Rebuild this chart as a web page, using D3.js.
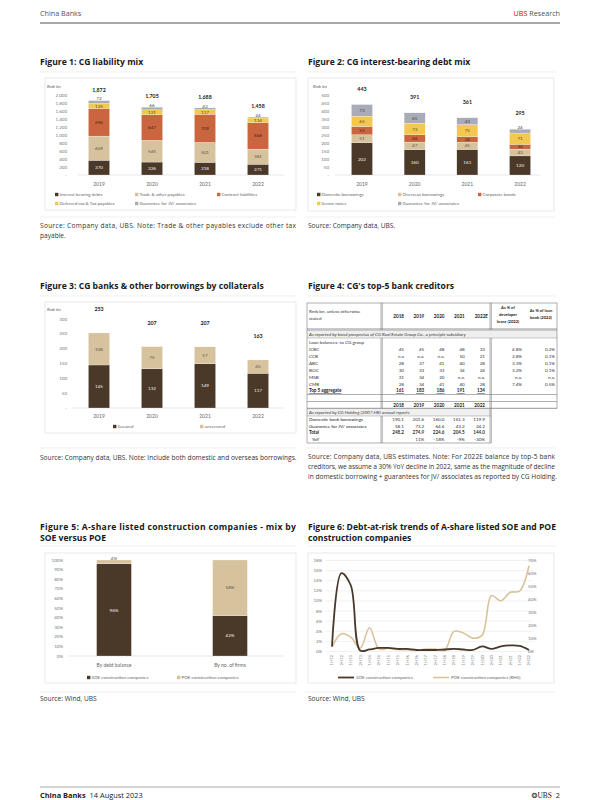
<!DOCTYPE html>
<html><head><meta charset="utf-8">
<script src="https://cdn.jsdelivr.net/npm/d3@7"></script>
<style>
body{margin:0;background:#fff}
svg{display:block}
</style></head><body>
<svg id="page" width="600" height="800"></svg>
<script>
// ---------------- DATA ----------------
const years = ["2019","2020","2021","2022"];
// Figure 1: CG liability mix (Rmb bn)
const f1Names = ["Interest bearing debts","Trade & other payables","Contract liabilities","Deferred tax & Tax payables","Guarantee for JV/ associates"];
const f1Interest = [370,326,318,271];
const f1Trade = [609,545,501,381];
const f1Contract = [696,647,709,668];
const f1Deferred = [125,121,117,114];
const f1Guarantee = [72,66,43,24];
const f1Totals = [1872,1705,1688,1458];
const f1Ticks = [0,200,400,600,800,1000,1200,1400,1600,1800,2000];
// Figure 2: CG interest-bearing debt mix (Rmb bn)
const f2Names = ["Domestic borrowings","Overseas borrowings","Corporate bonds","Senior notes","Guarantee for JV/ associates"];
const f2Domestic = [202,160,161,120];
const f2Overseas = [51,47,45,43];
const f2Corporate = [52,46,36,30];
const f2Senior = [65,73,75,71];
const f2Guarantee = [73,65,43,24];
const f2Totals = [443,391,361,295];
const f2Ticks = [0,50,100,150,200,250,300,350,400,450,500];
// Figure 3: borrowings by collaterals (Rmb bn)
const f3Names = ["Secured","unsecured"];
const f3Secured = [145,132,149,117];
const f3Unsecured = [108,75,57,45];
const f3Totals = [253,207,207,163];
const f3Ticks = [0,50,100,150,200,250,300];
// Figure 4: table
const t4Years = ["2018","2019","2020","2021","2022E"];
const t4YearsB = ["2018","2019","2020","2021","2022"];
const t4Banks = ["ICBC","CCB","ABC","BOC","MSB","CMB"];
const t4ICBC = ["45","45","48","48","33"];
const t4CCB = ["n.a","n.a.","n.a.","50","21"];
const t4ABC = ["28","37","41","40","28"];
const t4BOC = ["30","33","33","34","24"];
const t4MSB = ["31","34","20","n.a.","n.a."];
const t4CMB = ["28","34","41","40","28"];
const t4DevShare = ["4.8%","2.8%","3.3%","3.2%","n.a.","7.4%"];
const t4BookShare = ["0.2%","0.1%","0.1%","0.1%","n.a.","0.5%"];
const t4Top5 = ["161","183","186","191","134"];
const t4HoldLabels = ["Domestic bank borrowings","Guarantee for JV/ associates","Total","YoY"];
const t4HoldDomestic = ["190.1","201.6","160.0","161.3","119.9"];
const t4HoldGuarantee = ["58.1","73.2","64.6","43.2","24.2"];
const t4HoldTotal = ["248.2","274.9","224.6","204.5","144.0"];
const t4HoldYoY = ["","11%","-18%","-9%","-30%"];
// Figure 5: SOE vs POE mix (%)
const f5Cats = ["By debt balance","By no. of firms"];
const f5Names = ["SOE construction companies","POE construction companies"];
const f5SOE = [96,42];
const f5POE = [4,58];
const f5Ticks = [0,10,20,30,40,50,60,70,80,90,100];
// Figure 6: debt-at-risk trends (%)
const f6Periods = ["1H12","2H12","1H13","2H13","1H14","2H14","1H15","2H15","1H16","2H16","1H17","2H17","1H18","2H18","1H19","2H19","1H20","2H20","1H21","2H21","1H22","2H22"];
const f6SOE = [1.0,15.5,13.1,0.2,0.4,0.7,0.7,0.5,0.5,0.3,0.3,0.3,0.4,0.5,0.4,0.3,1.0,0.5,1.0,1.2,1.1,0.3];
const f6POE = [3.4,13.7,11.0,2.6,18.3,2.0,2.5,1.5,1.3,0.8,1.8,1.8,0.8,15.5,14.2,10.3,12.4,43.0,39.0,45.5,46.5,66.0];
const f6LeftTicks = [0,2,4,6,8,10,12,14,16,18];
const f6RightTicks = [0,10,20,30,40,50,60,70];

// ---------------- STYLE ----------------
const FONT = "Lato, 'Open Sans', sans-serif";
const TFONT = "'Open Sans', Lato, sans-serif";
const C_DARK = "#4a3829", C_TAN = "#d6c39e", C_ORANGE = "#c9663f", C_YELLOW = "#f3c84f", C_GREY = "#a9acb6";

const svg = d3.select("#page");
svg.append("rect").attr("width",600).attr("height",800).attr("fill","#fff");

function txt(g, x, y, s, o={}) {
  const t = g.append("text").attr("x",x).attr("y",y).text(s)
    .attr("font-size", o.size||5).attr("fill", o.fill||"#555")
    .attr("text-anchor", o.anchor||"start")
    .attr("font-weight", o.weight||"normal")
    .attr("font-style", o.style||"normal")
    .attr("font-family", o.family||FONT);
  if (o.len) t.attr("textLength", o.len).attr("lengthAdjust","spacing");
  if (o.deco) t.attr("text-decoration", o.deco);
  return t;
}
function hline(g,x1,x2,y,c,w){ g.append("line").attr("x1",x1).attr("x2",x2).attr("y1",y).attr("y2",y).attr("stroke",c).attr("stroke-width",w); }
function vline(g,x,y1,y2,c,w){ g.append("line").attr("x1",x).attr("x2",x).attr("y1",y1).attr("y2",y2).attr("stroke",c).attr("stroke-width",w); }
function frame(g,x,y,w,h){ g.append("rect").attr("x",x).attr("y",y).attr("width",w).attr("height",h).attr("fill","none").attr("stroke","#e4e4e4").attr("stroke-width",0.8); }
function title(g,x,y,lines,len){
  lines.forEach((l,i)=>txt(g,x,y+i*11,l,{size:8.6,weight:"bold",fill:"#1a1a1a",family:TFONT,len:(i<lines.length-1?len:null)}));
}
function source(g,x,y,lines,len){
  lines.forEach((l,i)=>txt(g,x,y+i*10,l.t,{size:6.6,fill:"#333",family:TFONT,len:(l.just?len:null)}));
}
function legend(g, items){
  items.forEach(it=>{
    g.append("rect").attr("x",it.x).attr("y",it.y-3.2).attr("width",3.4).attr("height",3.4).attr("fill",it.color);
    txt(g,it.x+4.5,it.y,it.name,{size:4.5,fill:"#666"});
  });
}

// ---------------- HEADER / FOOTER ----------------
txt(svg,40,16,"China Banks",{size:7.2,fill:"#555",family:TFONT});
const hr = svg.append("text").attr("x",560).attr("y",16).attr("text-anchor","end").attr("font-size",7.2).attr("font-family",TFONT);
hr.append("tspan").attr("fill","#e60000").text("UBS ");
hr.append("tspan").attr("fill","#555").text("Research");
hline(svg,40,560,23,"#8c8c8c",1.6);

hline(svg,40,560,787,"#a0a0a0",0.9);
const ft = svg.append("text").attr("x",40).attr("y",798).attr("font-size",7.4).attr("font-family",TFONT).attr("fill","#222");
ft.append("tspan").attr("font-weight","bold").text("China Banks");
ft.append("tspan").attr("dx",4).text("14 August 2023");
const fr = svg.append("text").attr("x",560).attr("y",798).attr("text-anchor","end").attr("font-size",7.4).attr("font-family",TFONT).attr("fill","#222");
fr.append("tspan").attr("font-family","DejaVu Sans").attr("font-size",7).text("\u2742");
fr.append("tspan").attr("font-family","'Liberation Serif', serif").text("UBS");
fr.append("tspan").attr("dx",4).text("2");

// ---------------- STACKED BAR HELPER ----------------
function stackChart(g, cfg){
  const {cats, series, x, y, ticks, tickX, fmt, axisX1, axisX2, catY, totalDy, totals, tickSize} = cfg;
  ticks.forEach(v => txt(g, tickX, y(v)+1.6, fmt(v), {size:tickSize||4.5, anchor:"end", fill:"#777"}));
  hline(g, axisX1, axisX2, y(0), "#d6d6d6", 0.6);
  cats.forEach(c => txt(g, x(c)+x.bandwidth()/2, catY, c, {size:5, anchor:"middle", fill:"#666"}));
  const rows = cats.map((c,i)=>{ const r={cat:c}; series.forEach(s=>r[s.name]=s.values[i]); return r; });
  const layers = d3.stack().keys(series.map(s=>s.name))(rows);
  layers.forEach((layer, li) => {
    const s = series[li];
    g.selectAll(null).data(layer).join("rect")
      .attr("x", d=>x(d.data.cat)).attr("width", x.bandwidth())
      .attr("y", d=>y(d[1])).attr("height", d=>y(d[0])-y(d[1]))
      .attr("fill", s.color).attr("stroke","#ffffff").attr("stroke-width",0.25);
  });
  layers.forEach((layer, li) => {
    const s = series[li];
    const isTop = li === layers.length-1;
    g.selectAll(null).data(layer).join("text")
      .attr("x", d=>x(d.data.cat)+x.bandwidth()/2)
      .attr("y", d=>{
        const h = y(d[0])-y(d[1]);
        return (isTop && h < 5) ? y(d[1])-0.3 : (y(d[0])+y(d[1]))/2+1.6;
      })
      .attr("text-anchor","middle").attr("font-size",4.6).attr("font-family",FONT)
      .attr("fill", s.labelColor)
      .text(d=>s.fmt ? s.fmt(d[1]-d[0]) : (d[1]-d[0]));
  });
  if (totals) {
    const top = layers[layers.length-1];
    g.selectAll(null).data(top).join("text")
      .attr("x", d=>x(d.data.cat)+x.bandwidth()/2)
      .attr("y", (d,i)=>y(d[1])-totalDy)
      .attr("text-anchor","middle").attr("font-size",5.3).attr("font-weight","bold")
      .attr("font-family",FONT).attr("fill","#222")
      .text((d,i)=>d3.format(",")(totals[i]));
  }
}
const numFmt = v => v===0 ? "-" : d3.format(",")(v);

// ---------------- FIGURE 1 ----------------
const g1 = svg.append("g");
title(g1,40,65,["Figure 1: CG liability mix"]);
hline(g1,40,296,72,"#e6e6e6",0.6);
frame(g1,45,78,251,132);
txt(g1,47,88,"Rmb bn",{size:4.3,style:"italic",fill:"#555"});
const x1 = d3.scaleBand().domain(years).range([72.5,284.5]).paddingInner(0.6).paddingOuter(0.3);
const y1 = d3.scaleLinear().domain([0,2000]).range([175,95.5]);
stackChart(g1,{cats:years,x:x1,y:y1,ticks:f1Ticks,tickX:67,fmt:numFmt,axisX1:78,axisX2:284,catY:185.5,totalDy:9,totals:f1Totals,
  series:[
    {name:f1Names[0],values:f1Interest,color:C_DARK,labelColor:"#f4efe9"},
    {name:f1Names[1],values:f1Trade,color:C_TAN,labelColor:"#5d5346"},
    {name:f1Names[2],values:f1Contract,color:C_ORANGE,labelColor:"#4e2414"},
    {name:f1Names[3],values:f1Deferred,color:C_YELLOW,labelColor:"#5b4a20"},
    {name:f1Names[4],values:f1Guarantee,color:C_GREY,labelColor:"#444"}]});
legend(g1,[
  {name:f1Names[0],color:C_DARK,x:55,y:196},
  {name:f1Names[1],color:C_TAN,x:135,y:196},
  {name:f1Names[2],color:C_ORANGE,x:217,y:196},
  {name:f1Names[3],color:C_YELLOW,x:55,y:205},
  {name:f1Names[4],color:C_GREY,x:135,y:205}]);
hline(g1,40,296,217,"#e6e6e6",0.6);
source(g1,40,228,[{t:"Source: Company data, UBS. Note: Trade & other payables exclude other tax",just:true},{t:"payable."}],256);

// ---------------- FIGURE 2 ----------------
const g2 = svg.append("g");
title(g2,308,65,["Figure 2: CG interest-bearing debt mix"]);
hline(g2,308,556,72,"#e6e6e6",0.6);
frame(g2,308,78,246,133);
txt(g2,313,88,"Rmb bn",{size:4.3,style:"italic",fill:"#555"});
const x2 = d3.scaleBand().domain(years).range([335.6,546.4]).paddingInner(0.6).paddingOuter(0.3);
const y2 = d3.scaleLinear().domain([0,500]).range([175,95.5]);
stackChart(g2,{cats:years,x:x2,y:y2,ticks:f2Ticks,tickX:329,fmt:numFmt,axisX1:335,axisX2:540,catY:185.5,totalDy:14,totals:f2Totals,
  series:[
    {name:f2Names[0],values:f2Domestic,color:C_DARK,labelColor:"#f4efe9"},
    {name:f2Names[1],values:f2Overseas,color:C_TAN,labelColor:"#5d5346"},
    {name:f2Names[2],values:f2Corporate,color:C_ORANGE,labelColor:"#4e2414"},
    {name:f2Names[3],values:f2Senior,color:C_YELLOW,labelColor:"#5b4a20"},
    {name:f2Names[4],values:f2Guarantee,color:C_GREY,labelColor:"#444"}]});
legend(g2,[
  {name:f2Names[0],color:C_DARK,x:317,y:196},
  {name:f2Names[1],color:C_TAN,x:398,y:196},
  {name:f2Names[2],color:C_ORANGE,x:478,y:196},
  {name:f2Names[3],color:C_YELLOW,x:317,y:205},
  {name:f2Names[4],color:C_GREY,x:398,y:205}]);
hline(g2,305,555,217,"#e6e6e6",0.6);
source(g2,308,228,[{t:"Source: Company data, UBS."}],0);

// ---------------- FIGURE 3 ----------------
const g3 = svg.append("g");
title(g3,40,289,["Figure 3: CG banks & other borrowings by collaterals"]);
hline(g3,40,296,296,"#e6e6e6",0.6);
frame(g3,45,302,251,131);
txt(g3,47,311,"Rmb bn",{size:4.3,style:"italic",fill:"#555"});
const x3 = d3.scaleBand().domain(years).range([72.5,284.5]).paddingInner(0.6).paddingOuter(0.3);
const y3 = d3.scaleLinear().domain([0,300]).range([408,319]);
stackChart(g3,{cats:years,x:x3,y:y3,ticks:f3Ticks,tickX:67,fmt:numFmt,axisX1:72,axisX2:284,catY:417.5,totalDy:22,totals:f3Totals,
  series:[
    {name:f3Names[0],values:f3Secured,color:C_DARK,labelColor:"#f4efe9"},
    {name:f3Names[1],values:f3Unsecured,color:C_TAN,labelColor:"#5d5346"}]});
legend(g3,[
  {name:f3Names[0],color:C_DARK,x:113,y:428},
  {name:f3Names[1],color:C_TAN,x:200,y:428}]);
hline(g3,40,296,448,"#e6e6e6",0.6);
source(g3,40,460,[{t:"Source: Company data, UBS. Note: Include both domestic and overseas borrowings."}],0);

// ---------------- FIGURE 4 (TABLE) ----------------
const g4 = svg.append("g");
title(g4,308,289,["Figure 4: CG's top-5 bank creditors"]);
hline(g4,308,556,296,"#e6e6e6",0.6);
const TS = 4.6, HS = 4.1, LC = "#7a7a7a";
const colX = d3.scalePoint().domain(t4Years.map((d,i)=>i)).range([404,485]);
const colX2 = d3.scalePoint().domain(t4YearsB.map((d,i)=>i)).range([404,485]);
// bands
g4.append("rect").attr("x",307).attr("y",330).attr("width",250).attr("height",8).attr("fill","#efefef");
g4.append("rect").attr("x",307).attr("y",408.5).attr("width",184).attr("height",7.5).attr("fill","#efefef");
// header
txt(g4,309,313,"Rmb bn, unless otherwise",{size:TS,fill:"#333"});
txt(g4,309,320,"stated",{size:TS,fill:"#333"});
t4Years.forEach((c,i)=>txt(g4,colX(i)+(i===4?3:0),318,c,{size:TS,weight:"bold",anchor:"end",fill:"#222"}));
txt(g4,508,309,"As % of",{size:HS,weight:"bold",anchor:"middle",fill:"#222"});
txt(g4,508,316,"developer",{size:HS,weight:"bold",anchor:"middle",fill:"#222"});
txt(g4,508,323,"loans (2022)",{size:HS,weight:"bold",anchor:"middle",fill:"#222"});
txt(g4,541,312,"As % of loan",{size:HS,weight:"bold",anchor:"middle",fill:"#222"});
txt(g4,541,319,"book (2022)",{size:HS,weight:"bold",anchor:"middle",fill:"#222"});
txt(g4,309,336,"As reported by bond prospectus of CG Real Estate Group Co., a principle subsidiary",{size:TS,style:"italic",fill:"#333"});
txt(g4,309,344,"Loan balances: to CG group",{size:TS,fill:"#333"});
const bankRows = [t4ICBC,t4CCB,t4ABC,t4BOC,t4MSB,t4CMB];
const rowY = d3.scalePoint().domain(t4Banks).range([350.5,385.5]);
t4Banks.forEach((b,bi)=>{
  const yy = rowY(b);
  txt(g4,309,yy,b,{size:TS,fill:"#333"});
  bankRows[bi].forEach((v,i)=>txt(g4,colX(i),yy,v,{size:TS,anchor:"end",fill:"#333"}));
  txt(g4,522,yy,t4DevShare[bi],{size:TS,anchor:"end",fill:"#333"});
  txt(g4,555,yy,t4BookShare[bi],{size:TS,anchor:"end",fill:"#333"});
});
txt(g4,309,392.3,"Top 5 aggregate",{size:TS,weight:"bold",fill:"#222",deco:"underline"});
t4Top5.forEach((v,i)=>txt(g4,colX(i),392.3,v,{size:TS,weight:"bold",anchor:"end",fill:"#222",deco:"underline"}));
t4YearsB.forEach((c,i)=>txt(g4,colX2(i),406.5,c,{size:TS,weight:"bold",anchor:"end",fill:"#222"}));
txt(g4,309,414.3,"As reported by CG Holding (2007.HK) annual reports",{size:TS,style:"italic",fill:"#333"});
const holdRows = [t4HoldDomestic,t4HoldGuarantee,t4HoldTotal,t4HoldYoY];
const hRowY = d3.scalePoint().domain(t4HoldLabels).range([421,441]);
t4HoldLabels.forEach((lab,ri)=>{
  const bold = lab==="Total";
  const yy = hRowY(lab);
  txt(g4,lab==="YoY"?312:309,yy,lab,{size:TS,fill:"#222",weight:bold?"bold":"normal"});
  holdRows[ri].forEach((v,i)=>txt(g4,colX2(i),yy,v,{size:TS,anchor:"end",fill:"#333",weight:bold?"bold":"normal"}));
});
// table lines
hline(g4,307,557,303,LC,0.6);
hline(g4,307,557,329,LC,0.8);
hline(g4,307,557,330.3,LC,0.4);
hline(g4,307,557,338,LC,0.4);
hline(g4,307,557,394.5,LC,0.6);
hline(g4,307,557,401.5,LC,0.6);
hline(g4,307,557,408.3,LC,0.8);
hline(g4,307,491,416,LC,0.4);
hline(g4,307,491,443,LC,0.6);
vline(g4,307,303,443,LC,0.6);
vline(g4,557,303,408.3,LC,0.6);
vline(g4,381,303,330,LC,0.6); vline(g4,382.3,303,330,LC,0.6);
vline(g4,381,338,408.3,LC,0.6); vline(g4,382.3,338,408.3,LC,0.6);
vline(g4,381,416,443,LC,0.6); vline(g4,382.3,416,443,LC,0.6);
vline(g4,490,303,330,LC,0.6); vline(g4,491.3,303,330,LC,0.6);
vline(g4,490,338,443,LC,0.6); vline(g4,491.3,338,443,LC,0.6);
hline(g4,305,555,448,"#e6e6e6",0.6);
source(g4,308,459,[
  {t:"Source: Company data, UBS estimates. Note: For 2022E balance by top-5 bank",just:true},
  {t:"creditors, we assume a 30% YoY decline in 2022, same as the magnitude of decline",just:true},
  {t:"in domestic borrowing + guarantees for JV/ associates as reported by CG Holding."}],247);

// ---------------- FIGURE 5 ----------------
const g5 = svg.append("g");
title(g5,40,530,["Figure 5: A-share listed construction companies - mix by","SOE versus POE"],256);
hline(g5,40,296,546,"#e6e6e6",0.6);
frame(g5,45,553,251,130);
const x5 = d3.scaleBand().domain(f5Cats).range([56,288]).paddingInner(0.7).paddingOuter(0.35);
const y5 = d3.scaleLinear().domain([0,100]).range([656,560]);
stackChart(g5,{cats:f5Cats,x:x5,y:y5,ticks:f5Ticks,tickX:63,fmt:v=>v+"%",axisX1:68,axisX2:285,catY:666.5,totalDy:0,totals:null,
  series:[
    {name:f5Names[0],values:f5SOE,color:C_DARK,labelColor:"#f4efe9",fmt:v=>v+"%"},
    {name:f5Names[1],values:f5POE,color:C_TAN,labelColor:"#5d5346",fmt:v=>v+"%"}]});
legend(g5,[
  {name:f5Names[0],color:C_DARK,x:87,y:679},
  {name:f5Names[1],color:C_TAN,x:177,y:679}]);
hline(g5,40,296,692,"#e6e6e6",0.6);
source(g5,40,701,[{t:"Source: Wind, UBS"}],0);

// ---------------- FIGURE 6 ----------------
const g6 = svg.append("g");
title(g6,308,530,["Figure 6: Debt-at-risk trends of A-share listed SOE and POE","construction companies"],248);
hline(g6,308,556,546,"#e6e6e6",0.6);
frame(g6,308,553,246,130);
const x6 = d3.scalePoint().domain(f6Periods).range([332,529]);
const yL = d3.scaleLinear().domain([0,18]).range([651.5,560.5]);
const yR = d3.scaleLinear().domain([0,70]).range([651.5,560.5]);
f6LeftTicks.forEach(v=>{
  hline(g6,326,533,yL(v),"#e3e3e3",0.5);
  txt(g6,322,yL(v)+1.5,v+"%",{size:4.4,anchor:"end",fill:"#777"});
});
f6RightTicks.forEach(v=>txt(g6,528,yR(v)+1.5,v+"%",{size:4.4,fill:"#777"}));
f6Periods.forEach(p=>{
  g6.append("text").attr("transform",`translate(${x6(p)},655) rotate(-90)`)
    .attr("text-anchor","end").attr("dy","0.35em").attr("font-size",4.2).attr("font-family",FONT).attr("fill","#777").text(p);
});
const lineL = d3.line().x((d,i)=>x6(f6Periods[i])).y(d=>yL(d)).curve(d3.curveCatmullRom.alpha(0.5));
const lineR = d3.line().x((d,i)=>x6(f6Periods[i])).y(d=>yR(d)).curve(d3.curveCatmullRom.alpha(0.5));
g6.append("path").attr("d",lineR(f6POE)).attr("fill","none").attr("stroke","#d8c39b").attr("stroke-width",1.6);
g6.append("path").attr("d",lineL(f6SOE)).attr("fill","none").attr("stroke","#4a3829").attr("stroke-width",1.8);
hline(g6,338,354,677.5,"#4a3829",1.8);
txt(g6,356,679,"SOE construction companies",{size:4.5,fill:"#666"});
hline(g6,433,449,677.5,"#d8c39b",1.6);
txt(g6,451,679,"POE construction companies (RHS)",{size:4.5,fill:"#666"});
hline(g6,305,555,692,"#e6e6e6",0.6);
source(g6,308,701,[{t:"Source: Wind, UBS"}],0);
</script>
</body></html>
